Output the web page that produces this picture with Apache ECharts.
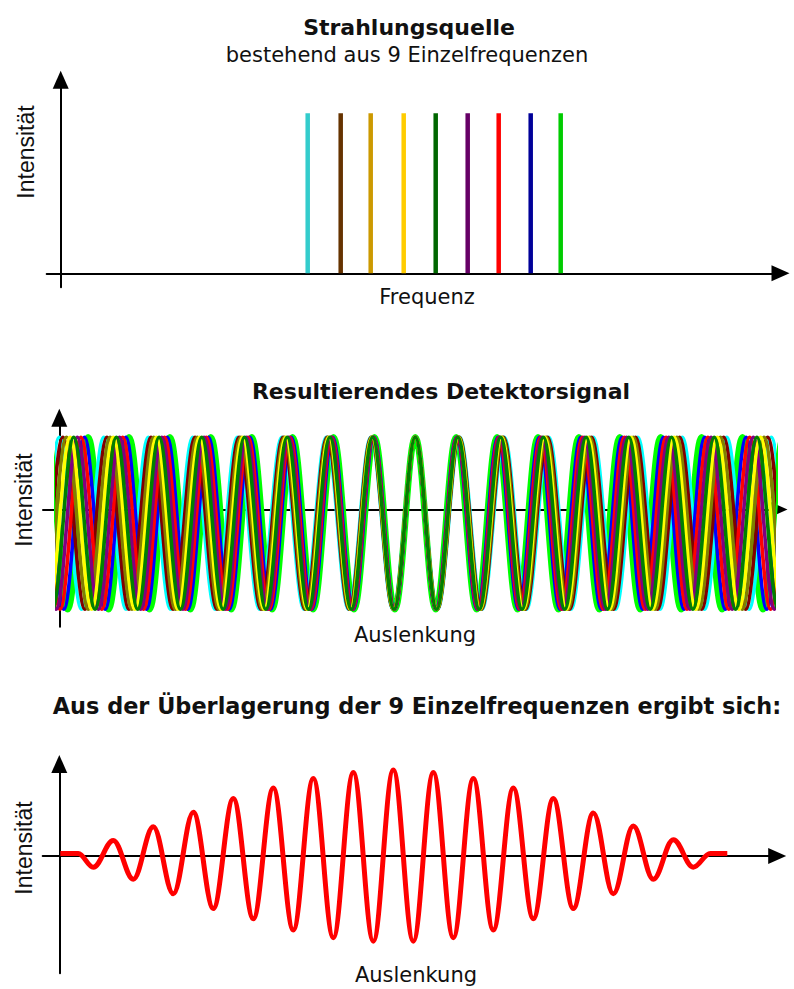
<!DOCTYPE html>
<html>
<head>
<meta charset="utf-8">
<script src="https://cdn.jsdelivr.net/npm/echarts@6/dist/echarts.min.js"></script>
<style>
  html, body { margin: 0; padding: 0; background: #ffffff; }
  #chart { width: 794px; height: 989px; }
</style>
</head>
<body>
<div id="chart"></div>
<script>
// ---- Strahlungsquelle: nine spectral lines (frequency counted from the intensity axis, arbitrary units)
const lineColors = ['#33cccc', '#663300', '#cc9900', '#ffcc00', '#006600', '#660066', '#ff0000', '#000099', '#00cc00'];
const lineFrequencies = [247, 280, 310, 343, 375, 407, 438, 470, 500];
const lineIntensities = [1, 1, 1, 1, 1, 1, 1, 1, 1];

// ---- Detektorsignal: one cosine per spectral line (period in displacement units, same order as above)
const waveColors = ['#00ffff', '#800000', '#808000', '#ffff00', '#008000', '#800080', '#ff0000', '#0000ff', '#00ff00'];
const wavePeriods = [44.5, 44.05, 43.6, 43.15, 42.7, 42.25, 41.8, 41.35, 40.9];
const waveCentre = 356;      // displacement where all nine waves are in phase
const wavePeak = 0.84;
const waveTrough = -1.16;

// ---- Überlagerung: extrema of the summed signal (displacement, intensity)
const sumX = [1, 19, 34, 54, 74, 94, 114, 134, 154, 174, 194, 214, 234, 254, 274, 294, 314,
              334, 354, 374, 394, 414, 434, 454, 474, 494, 514, 534, 554, 574, 594, 614, 634, 651, 668];
const sumY = [0.03, 0.03, -0.13, 0.18, -0.27, 0.34, -0.44, 0.51, -0.61, 0.67, -0.73, 0.79, -0.86, 0.90, -0.95, 0.97, -0.99,
              1.00, -0.99, 0.97, -0.95, 0.90, -0.86, 0.79, -0.73, 0.67, -0.61, 0.50, -0.44, 0.35, -0.27, 0.19, -0.13, 0.03, 0.03];

// ---- texts
const texts = {
  title1: 'Strahlungsquelle',
  subtitle1: 'bestehend aus 9 Einzelfrequenzen',
  xName1: 'Frequenz',
  title2: 'Resultierendes Detektorsignal',
  xName2: 'Auslenkung',
  title3: 'Aus der Überlagerung der 9 Einzelfrequenzen ergibt sich:',
  xName3: 'Auslenkung',
  yName: 'Intensität'
};

// visible span of the detector waves
const waveSpan = [-2, 714];

// extrema of one cosine of the given period, covering the visible span
function waveExtrema(period) {
  const half = period / 2;
  const kMin = Math.floor((waveSpan[0] - waveCentre) / half) - 1;
  const kMax = Math.ceil((waveSpan[1] - waveCentre) / half) + 1;
  const pts = [];
  for (let k = kMin; k <= kMax; k++) {
    pts.push([waveCentre + k * half, Math.abs(k) % 2 === 0 ? wavePeak : waveTrough]);
  }
  return pts;
}

const AXIS_COLOR = '#000000';
function axisLine(withArrow) {
  return {
    show: true,
    onZero: true,
    symbol: ['none', withArrow ? 'triangle' : 'none'],
    symbolSize: [16, 18],
    lineStyle: { color: AXIS_COLOR, width: 2 }
  };
}
function valueAxis(gridIndex, min, max, show) {
  return {
    type: 'value', gridIndex, min, max, show,
    axisLine: axisLine(true),
    axisTick: { show: false },
    axisLabel: { show: false },
    splitLine: { show: false }
  };
}

const SMOOTH = 0.363;   // bezier handle length giving a cosine-like arc between extrema

const series = [];
// spectral lines
series.push({
  type: 'bar',
  xAxisIndex: 0, yAxisIndex: 0,
  barWidth: 4.5,
  data: lineFrequencies.map((f, i) => ({ value: [f, lineIntensities[i]], itemStyle: { color: lineColors[i] } })),
  silent: true
});
// detector waves: the highest frequency drawn first as a wide band, the rest on top
const waveOrder = [8, 0, 7, 1, 6, 2, 5, 3, 4];
waveOrder.forEach((i, n) => {
  series.push({
    type: 'line',
    xAxisIndex: 2, yAxisIndex: 2,
    data: waveExtrema(wavePeriods[i]),
    smooth: SMOOTH,
    smoothMonotone: 'x',
    showSymbol: false,
    clip: true,
    lineStyle: { color: waveColors[i], width: n === 0 ? 6.5 : 3.6 },
    z: 2 + n,
    silent: true,
    animation: false
  });
});
// interferogram
series.push({
  type: 'line',
  xAxisIndex: 3, yAxisIndex: 3,
  data: sumX.map((x, i) => [x, sumY[i]]),
  smooth: SMOOTH,
  smoothMonotone: 'x',
  showSymbol: false,
  lineStyle: { color: '#ff0000', width: 5 },
  z: 3,
  silent: true
});

const regular = '21px "DejaVu Sans"';
const bold = 'bold 22px "DejaVu Sans"';
const boldWide = 'bold 22.4px "DejaVu Sans"';
const yFont = '23px "Liberation Sans", Arial, sans-serif';
function label(text, x, y, font, rotation) {
  return {
    type: 'text', x, y, rotation: rotation || 0, silent: true, z: 100,
    style: { text, font, fill: '#111111', align: 'center', verticalAlign: 'middle', textAlign: 'center', textVerticalAlign: 'middle' }
  };
}

const option = {
  animation: false,
  backgroundColor: '#ffffff',
  grid: [
    { left: 46.7, top: 79.7, width: 733.8, height: 207.6 },     // Strahlungsquelle
    { left: 43, top: 417.8, width: 735.5, height: 208.9 },      // Detektorsignal axes
    { left: 57.3, top: 417.8, width: 716, height: 208.9 },      // Detektorsignal waves
    { left: 42.7, top: 764, width: 734.5, height: 209.3 }       // Überlagerung
  ],
  xAxis: [
    valueAxis(0, -14, 719.8, true),
    valueAxis(1, -16.3, 719.2, true),
    valueAxis(2, waveSpan[0], waveSpan[1], false),
    valueAxis(3, -16.6, 717.9, true)
  ],
  yAxis: [
    valueAxis(0, -0.0875, 1.21, true),
    valueAxis(1, -1.363, 1.066, true),
    valueAxis(2, -1.363, 1.066, false),
    valueAxis(3, -1.364, 1.07, true)
  ],
  series,
  graphic: [
    label(texts.title1, 409, 27, bold),
    label(texts.subtitle1, 407, 55, regular),
    label(texts.xName1, 427, 297, regular),
    label(texts.yName, 26, 152, yFont, Math.PI / 2),
    label(texts.title2, 441, 391, bold),
    label(texts.xName2, 415, 635, regular),
    label(texts.yName, 24, 500, yFont, Math.PI / 2),
    label(texts.title3, 417, 706, boldWide),
    label(texts.xName3, 416, 975, regular),
    label(texts.yName, 24, 848, yFont, Math.PI / 2)
  ]
};

const chart = echarts.init(document.getElementById('chart'), null, { renderer: 'svg', width: 794, height: 989 });
chart.setOption(option);
</script>
</body>
</html>
